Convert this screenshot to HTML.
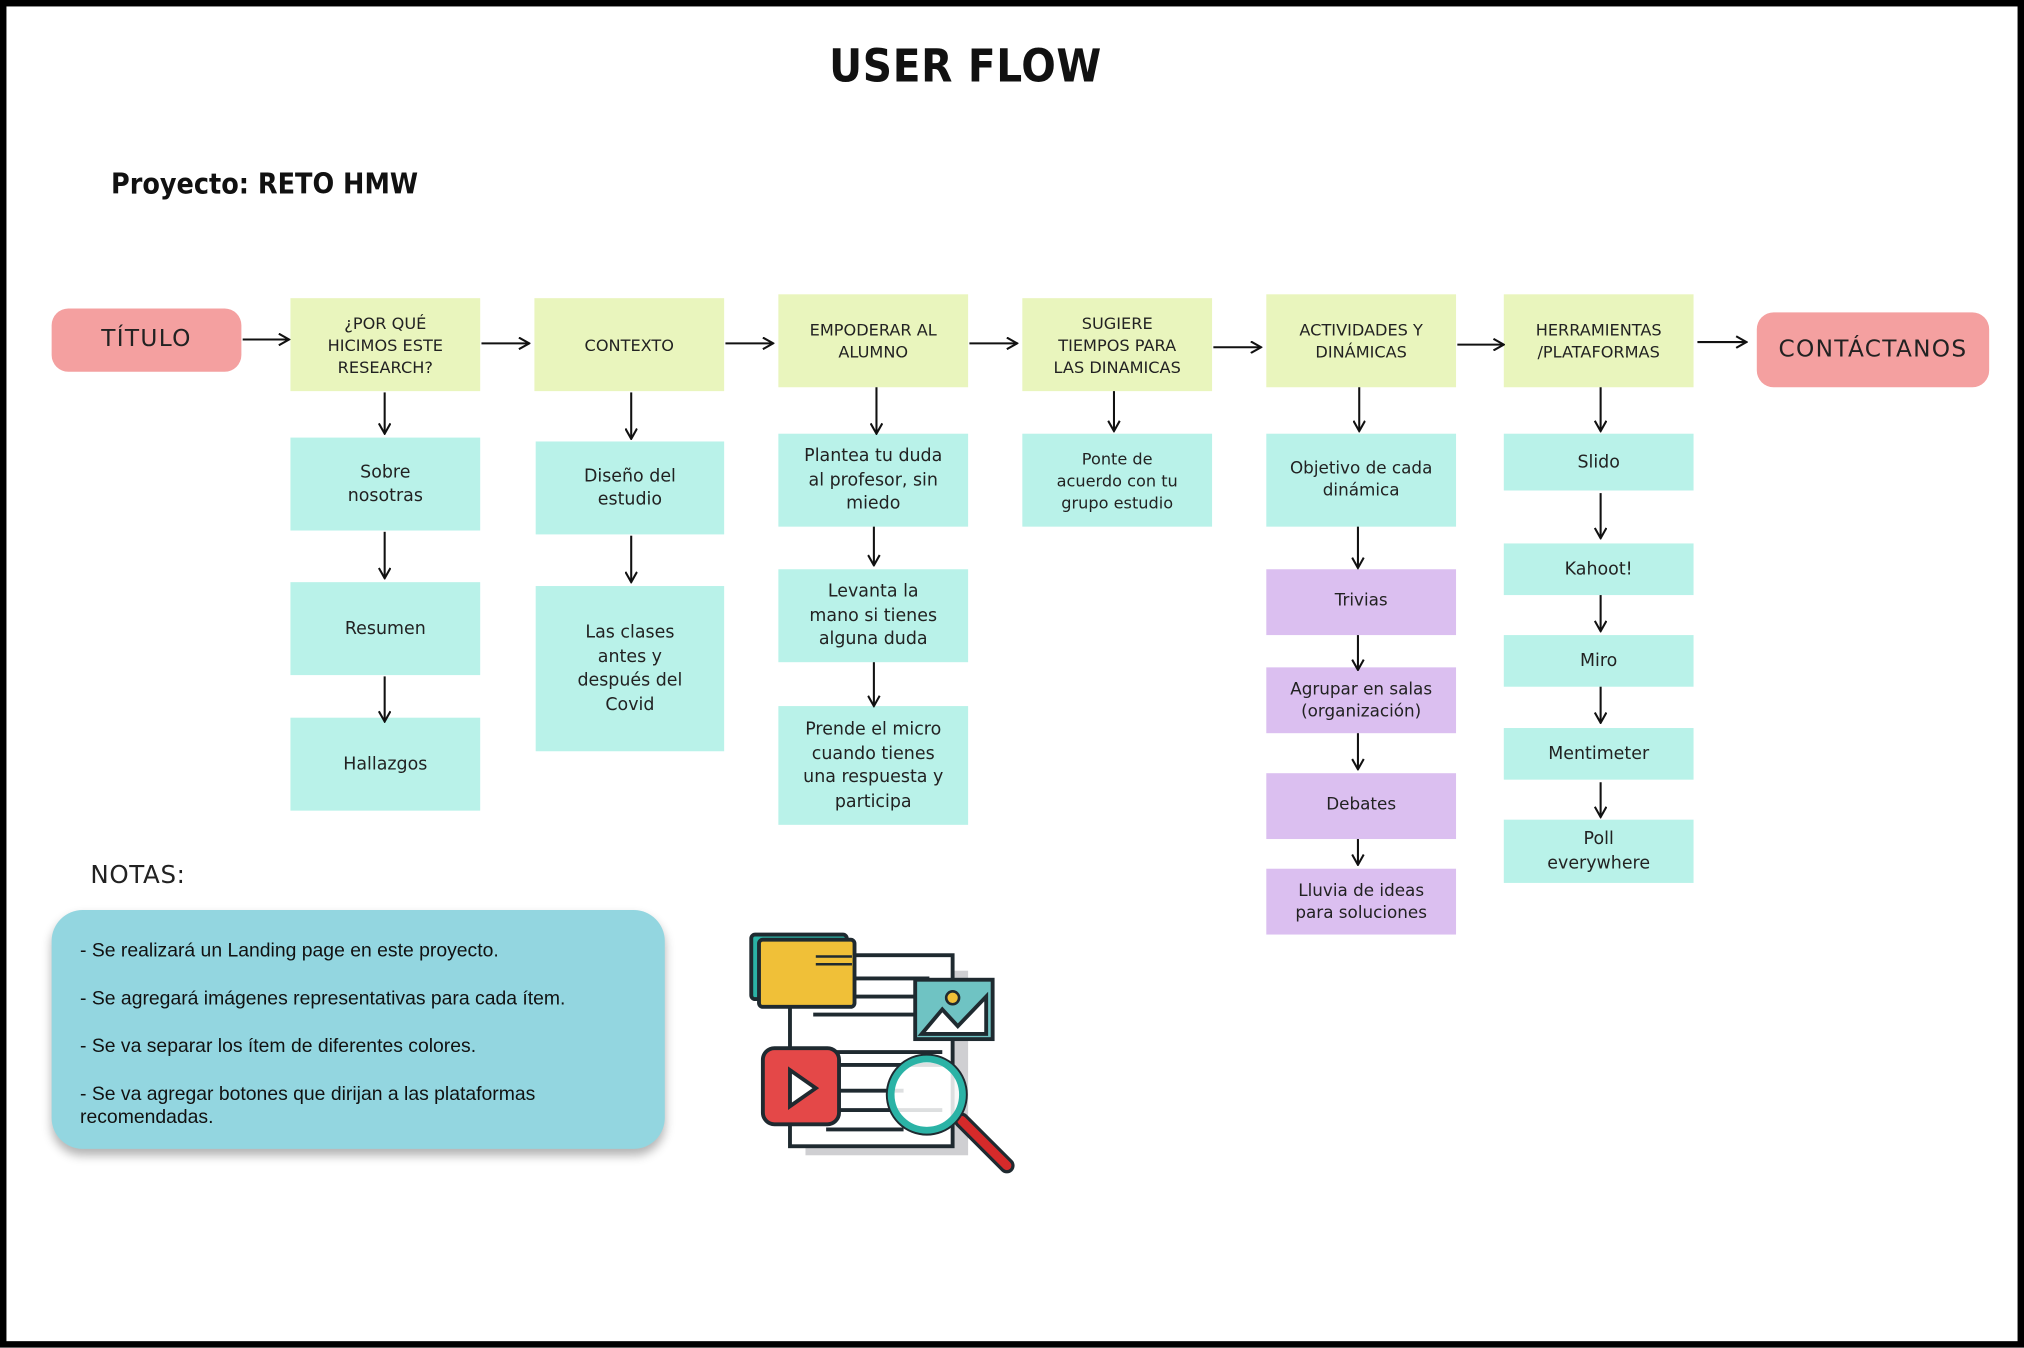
<!DOCTYPE html>
<html><head><meta charset="utf-8"><style>
html,body{margin:0;padding:0;background:#fff;}
#wrap{width:2024px;height:1348px;overflow:hidden;position:relative;}
#c{position:absolute;left:0;top:0;width:1568px;height:1044px;transform:scale(1.29082);transform-origin:0 0;font-family:"DejaVu Sans","Liberation Sans",sans-serif;color:#222;}
.frame{position:absolute;left:0;top:0;width:1558px;height:1034px;border:5px solid #000;}
.b{position:absolute;display:flex;align-items:center;justify-content:center;text-align:center;font-size:13.5px;line-height:18.5px;box-sizing:border-box;padding:0 8px;}
.y{background:#e9f5bd;font-size:12.5px;line-height:17px;}
.g{background:#b9f2e9;}
.p{background:#dbbff0;font-size:13px;}
.k{background:#f4a0a0;border-radius:13px;font-size:18px;letter-spacing:1px;}
svg{position:absolute;left:0;top:0;}
</style></head><body><div id="wrap"><div id="c">
<div class="frame"></div>
<div style="position:absolute;left:0;width:1496px;top:32px;text-align:center;font-size:35px;font-weight:bold;letter-spacing:0.5px;font-family:'DejaVu Sans Condensed','DejaVu Sans',sans-serif;color:#111;">USER FLOW</div>
<div style="position:absolute;left:86px;top:131px;font-size:22px;font-weight:bold;font-family:'DejaVu Sans Condensed','DejaVu Sans',sans-serif;color:#111;">Proyecto: RETO HMW</div>

<div class="b k" style="left:40px;top:239px;width:147px;height:49px;">TÍTULO</div>
<div class="b k" style="left:1361px;top:242px;width:180px;height:58px;">CONTÁCTANOS</div>

<div class="b y" style="left:225px;top:231px;width:147px;height:72px;">¿POR QUÉ<br>HICIMOS ESTE<br>RESEARCH?</div>
<div class="b y" style="left:414px;top:231px;width:147px;height:72px;">CONTEXTO</div>
<div class="b y" style="left:603px;top:228px;width:147px;height:72px;">EMPODERAR AL<br>ALUMNO</div>
<div class="b y" style="left:792px;top:231px;width:147px;height:72px;">SUGIERE<br>TIEMPOS PARA<br>LAS DINAMICAS</div>
<div class="b y" style="left:981px;top:228px;width:147px;height:72px;">ACTIVIDADES Y<br>DINÁMICAS</div>
<div class="b y" style="left:1165px;top:228px;width:147px;height:72px;">HERRAMIENTAS<br>/PLATAFORMAS</div>

<div class="b g" style="left:225px;top:339px;width:147px;height:72px;">Sobre<br>nosotras</div>
<div class="b g" style="left:225px;top:451px;width:147px;height:72px;">Resumen</div>
<div class="b g" style="left:225px;top:556px;width:147px;height:72px;">Hallazgos</div>

<div class="b g" style="left:415px;top:342px;width:146px;height:72px;">Diseño del<br>estudio</div>
<div class="b g" style="left:415px;top:454px;width:146px;height:128px;">Las clases<br>antes y<br>después del<br>Covid</div>

<div class="b g" style="left:603px;top:336px;width:147px;height:72px;">Plantea tu duda<br>al profesor, sin<br>miedo</div>
<div class="b g" style="left:603px;top:441px;width:147px;height:72px;">Levanta la<br>mano si tienes<br>alguna duda</div>
<div class="b g" style="left:603px;top:547px;width:147px;height:92px;">Prende el micro<br>cuando tienes<br>una respuesta y<br>participa</div>

<div class="b g" style="left:792px;top:336px;width:147px;height:72px;font-size:12.5px;line-height:17px;">Ponte de<br>acuerdo con tu<br>grupo estudio</div>

<div class="b g" style="left:981px;top:336px;width:147px;height:72px;font-size:13px;line-height:17px;">Objetivo de cada<br>dinámica</div>
<div class="b p" style="left:981px;top:441px;width:147px;height:51px;">Trivias</div>
<div class="b p" style="left:981px;top:517px;width:147px;height:51px;line-height:17px;">Agrupar en salas<br>(organización)</div>
<div class="b p" style="left:981px;top:599px;width:147px;height:51px;">Debates</div>
<div class="b p" style="left:981px;top:673px;width:147px;height:51px;line-height:17px;">Lluvia de ideas<br>para soluciones</div>

<div class="b g" style="left:1165px;top:336px;width:147px;height:44px;">Slido</div>
<div class="b g" style="left:1165px;top:421px;width:147px;height:40px;">Kahoot!</div>
<div class="b g" style="left:1165px;top:492px;width:147px;height:40px;">Miro</div>
<div class="b g" style="left:1165px;top:564px;width:147px;height:40px;">Mentimeter</div>
<div class="b g" style="left:1165px;top:635px;width:147px;height:49px;">Poll<br>everywhere</div>

<div style="position:absolute;left:70px;top:667px;font-size:19px;letter-spacing:0.5px;">NOTAS:</div>
<div style="position:absolute;left:40px;top:705px;width:475px;height:185px;background:#93d6e0;border-radius:24px;box-shadow:0 5px 8px rgba(0,0,0,0.3);font-family:'Liberation Sans',sans-serif;font-size:15px;line-height:18px;color:#111;box-sizing:border-box;padding:23px 20px 0 22px;">
<div>- Se realizará un Landing page en este proyecto.</div>
<div style="margin-top:19px">- Se agregará imágenes representativas para cada ítem.</div>
<div style="margin-top:19px">- Se va separar los ítem de diferentes colores.</div>
<div style="margin-top:19px">- Se va agregar botones que dirijan a las plataformas recomendadas.</div>
</div>

<svg width="1568" height="1044" viewBox="0 0 1568 1044">
<defs><marker id="a" markerWidth="10" markerHeight="10" refX="9" refY="5" orient="auto" markerUnits="userSpaceOnUse"><path d="M1 0.5 L9 5 L1 9.5" fill="none" stroke="#111" stroke-width="1.6"/></marker></defs>
<g stroke="#111" stroke-width="1.6" fill="none" marker-end="url(#a)">
<line x1="188" y1="263" x2="224" y2="263"/>
<line x1="373" y1="266" x2="410" y2="266"/>
<line x1="562" y1="266" x2="599" y2="266"/>
<line x1="751" y1="266" x2="788" y2="266"/>
<line x1="940" y1="269" x2="977" y2="269"/>
<line x1="1129" y1="267" x2="1165" y2="267"/>
<line x1="1315" y1="265" x2="1353" y2="265"/>
<line x1="298" y1="304" x2="298" y2="336"/>
<line x1="298" y1="412" x2="298" y2="448"/>
<line x1="298" y1="524" x2="298" y2="559"/>
<line x1="489" y1="304" x2="489" y2="340"/>
<line x1="489" y1="415" x2="489" y2="451"/>
<line x1="679" y1="300" x2="679" y2="336"/>
<line x1="677" y1="408" x2="677" y2="438"/>
<line x1="677" y1="513" x2="677" y2="547"/>
<line x1="863" y1="303" x2="863" y2="334"/>
<line x1="1053" y1="300" x2="1053" y2="334"/>
<line x1="1052" y1="408" x2="1052" y2="440"/>
<line x1="1052" y1="492" x2="1052" y2="519"/>
<line x1="1052" y1="568" x2="1052" y2="596"/>
<line x1="1052" y1="650" x2="1052" y2="670"/>
<line x1="1240" y1="300" x2="1240" y2="334"/>
<line x1="1240" y1="382" x2="1240" y2="417"/>
<line x1="1240" y1="461" x2="1240" y2="489"/>
<line x1="1240" y1="532" x2="1240" y2="560"/>
<line x1="1240" y1="606" x2="1240" y2="633"/>
</g>
<g stroke="#1f2a30" stroke-width="3">
<rect x="624" y="752" width="126" height="143" fill="#cfcfd2" stroke="none"/>
<rect x="612" y="740" width="126" height="148" fill="#fff"/>
<line x1="630" y1="758" x2="720" y2="758"/><line x1="630" y1="772" x2="720" y2="772"/><line x1="630" y1="786" x2="720" y2="786"/>
<line x1="630" y1="815" x2="730" y2="815"/><line x1="630" y1="825" x2="730" y2="825"/>
<line x1="640" y1="845" x2="700" y2="845"/><line x1="640" y1="860" x2="730" y2="860"/><line x1="640" y1="875" x2="700" y2="875"/>
<rect x="582" y="724" width="74" height="50" rx="3" fill="#2bb3a6"/>
<rect x="588" y="728" width="74" height="52" rx="3" fill="#f0c038"/>
<line x1="632" y1="741" x2="660" y2="741" stroke-width="2"/><line x1="632" y1="747" x2="660" y2="747" stroke-width="2"/>
<rect x="709" y="759" width="60" height="46" fill="#6fc3c3"/>
<path d="M714 801 L730 782 L742 795 L764 772 L764 801 Z" fill="#fff"/>
<circle cx="738" cy="773" r="5" fill="#f0c038" stroke-width="2"/>
<rect x="591" y="812" width="59" height="59" rx="9" fill="#e44848"/>
<path d="M612 829 L632 843 L612 857 Z" fill="#fff"/>
<line x1="745" y1="868" x2="780" y2="903" stroke="#1f2a30" stroke-width="12" stroke-linecap="round"/>
<line x1="745" y1="868" x2="780" y2="903" stroke="#d62a2a" stroke-width="7" stroke-linecap="round"/>
<circle cx="718" cy="848" r="28" fill="#fff" fill-opacity="0.85" stroke="#2bb3a6" stroke-width="6"/>
<circle cx="718" cy="848" r="31" fill="none" stroke-width="1.5"/>
</g>
</svg>
</div></div></body></html>
